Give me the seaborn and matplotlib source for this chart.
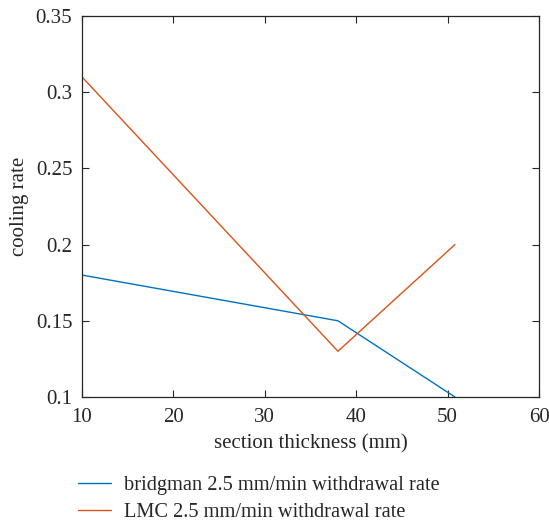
import matplotlib
matplotlib.use("Agg")
import matplotlib.pyplot as plt
import seaborn as sns
import pandas as pd

# Cooling rate versus section thickness for two casting processes
series_names = ["bridgman 2.5 mm/min withdrawal rate", "LMC 2.5 mm/min withdrawal rate"]
bridgman_thickness = [10, 38, 50.8]
bridgman_rate = [0.18, 0.15, 0.10]
lmc_thickness = [10, 38, 50.8]
lmc_rate = [0.31, 0.13, 0.20]
x_ticks = [10, 20, 30, 40, 50, 60]
y_ticks = [0.1, 0.15, 0.2, 0.25, 0.3, 0.35]
y_tick_labels = ["0.1", "0.15", "0.2", "0.25", "0.3", "0.35"]

df = pd.concat([
    pd.DataFrame({"thickness": bridgman_thickness, "rate": bridgman_rate, "series": series_names[0]}),
    pd.DataFrame({"thickness": lmc_thickness, "rate": lmc_rate, "series": series_names[1]}),
], ignore_index=True)

sns.set_style("ticks")
plt.rcParams["font.family"] = ["Liberation Serif", "DejaVu Serif"]

fig = plt.figure(figsize=(5.49, 5.22), dpi=100)
ax = fig.add_axes([0.1494, 0.2395, 0.8324, 0.7298])

palette = {series_names[0]: "#0072BD", series_names[1]: "#D95319"}
sns.lineplot(data=df, x="thickness", y="rate", hue="series", palette=palette,
             linewidth=1.0, ax=ax, legend=False, sort=False)

ax.set_xlim(10, 60)
ax.set_ylim(0.1, 0.35)
ax.set_xticks(x_ticks)
ax.set_xticklabels([str(t) for t in x_ticks])
ax.set_yticks(y_ticks)
ax.set_yticklabels(y_tick_labels)
ax.tick_params(direction="in", length=5, width=0.8, top=True, right=True,
               labelsize=15, colors="#262626")
ax.tick_params(axis="x", pad=8)
ax.tick_params(axis="y", pad=7)
for s in ax.spines.values():
    s.set_visible(True)
    s.set_linewidth(0.9)
    s.set_color("#262626")

ax.set_xlabel("section thickness (mm)", fontsize=15, color="#262626", labelpad=5)
ax.set_ylabel("cooling rate", fontsize=15, color="#262626", labelpad=5)

handles = [plt.Line2D([], [], color=palette[n], linewidth=1.0) for n in series_names]
fig.legend(handles, series_names, loc="upper left", bbox_to_anchor=(0.142, 0.088),
           frameon=False, fontsize=14.7, handlelength=1.6, handletextpad=0.65,
           labelspacing=0.38, borderpad=0.0, borderaxespad=0.0, labelcolor="#262626")

fig.savefig("out.png", dpi=100, facecolor="white")
